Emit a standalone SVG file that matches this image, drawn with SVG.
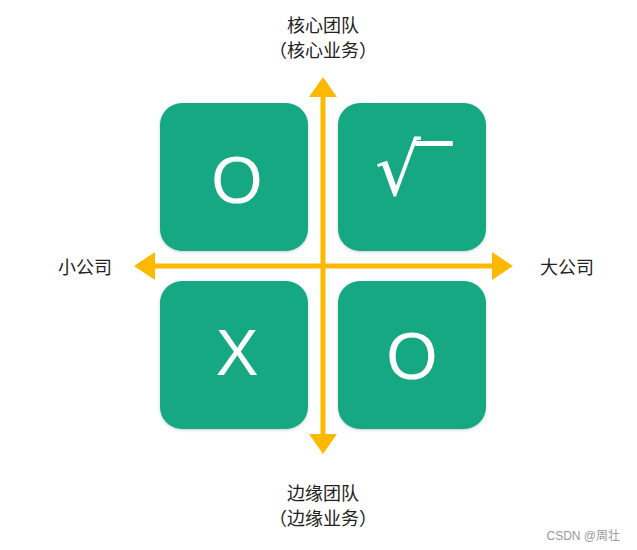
<svg xmlns="http://www.w3.org/2000/svg" width="637" height="550" viewBox="0 0 637 550">
<style>
.box{fill:#13A882;}
.sym{fill:#fff;font-family:"Liberation Sans","DejaVu Sans",sans-serif;text-anchor:middle;}
.lbl{fill:#222;font-family:"Noto Sans CJK SC","Noto Sans",sans-serif;font-size:18px;}
.axis{stroke:#FDB800;stroke-width:5;fill:none;}
.head{fill:#FDB800;}
</style>
<defs>
<filter id="sh" x="-10%" y="-10%" width="120%" height="120%">
<feDropShadow dx="0" dy="1" stdDeviation="1.5" flood-color="#000" flood-opacity="0.2"/>
</filter>
</defs>
<rect width="637" height="550" fill="#fff"/>
<g id="q-top-left"><rect class="box" x="160" y="103" width="148" height="148" rx="22" filter="url(#sh)"/><text class="sym" x="237" y="203" font-size="66">O</text></g>
<g id="q-top-right"><rect class="box" x="338" y="103" width="148" height="148" rx="22" filter="url(#sh)"/><text x="375" y="195" font-size="72" fill="#fff" letter-spacing="-5" font-family="DejaVu Sans,sans-serif">√‾</text></g>
<g id="q-bottom-left"><rect class="box" x="160" y="281" width="148" height="148" rx="22" filter="url(#sh)"/><text class="sym" x="237" y="375" font-size="64">X</text></g>
<g id="q-bottom-right"><rect class="box" x="338" y="281" width="148" height="148" rx="22" filter="url(#sh)"/><text class="sym" x="412" y="379" font-size="66">O</text></g>
<g id="connectors">
<line class="axis" x1="323" y1="95" x2="323" y2="437"/>
<polygon class="head" points="323,77 309,97 337,97"/>
<polygon class="head" points="323,454 309,434 337,434"/>
<line class="axis" x1="152" y1="266" x2="496" y2="266"/>
<polygon class="head" points="134,266 155,252 155,280"/>
<polygon class="head" points="513,266 492,252 492,280"/>
</g>
<g id="label-top"><text class="lbl" x="323" y="32" text-anchor="middle">核心团队</text><text class="lbl" x="323" y="57" text-anchor="middle">（核心业务）</text></g>
<g id="label-left"><text class="lbl" x="85" y="274" text-anchor="middle">小公司</text></g>
<g id="label-right"><text class="lbl" x="567" y="274" text-anchor="middle">大公司</text></g>
<g id="label-bottom"><text class="lbl" x="323" y="500" text-anchor="middle">边缘团队</text><text class="lbl" x="323" y="525" text-anchor="middle">（边缘业务）</text></g>
<text x="620" y="540" text-anchor="end" fill="#999" font-size="12" font-family="Liberation Sans,'Noto Sans CJK SC',sans-serif">CSDN @周壮</text>
</svg>
